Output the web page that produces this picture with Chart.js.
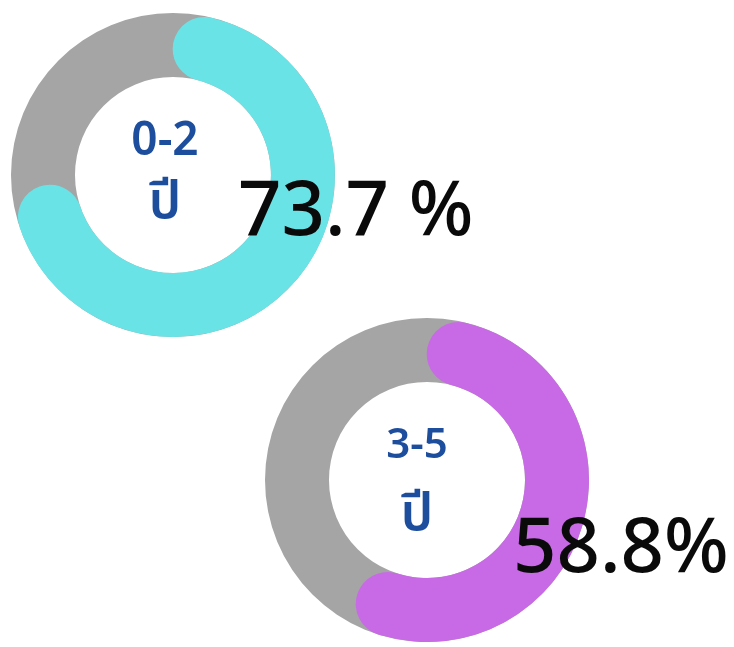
<!DOCTYPE html>
<html>
<head>
<meta charset="utf-8">
<script src="https://cdn.jsdelivr.net/npm/chart.js@4.4.1/dist/chart.umd.min.js"></script>
<style>
  html, body { margin: 0; padding: 0; background: #fff; }
  #wrap { position: relative; width: 734px; height: 647px; }
  #wrap canvas { position: absolute; left: 0; top: 0; }
</style>
</head>
<body>
<div id="wrap">
  <canvas id="ring1" width="734" height="647"></canvas>
  <canvas id="ring2" width="734" height="647"></canvas>
</div>
<script>
// Age groups and share of each group (percent)
const groups = ['0-2', '3-5'];
const unitLabel = 'ปี';
const shares = [73.7, 58.8];
const shareLabels = ['73.7 %', '58.8%'];
const ringColors = ['#6ae3e6', '#c86ae5'];
const trackColor = '#a5a5a5';

// Grey track under the coloured arc so the rounded ends sit on it
const trackPlugin = {
    id: 'track',
    beforeDatasetsDraw(chart) {
        const arc = chart.getDatasetMeta(0).data[0];
        if (!arc) return;
        const { x, y, innerRadius, outerRadius } = arc.getProps(['x', 'y', 'innerRadius', 'outerRadius'], true);
        const ctx = chart.ctx;
        ctx.save();
        ctx.beginPath();
        ctx.arc(x, y, outerRadius, 0, Math.PI * 2);
        ctx.arc(x, y, innerRadius, Math.PI * 2, 0, true);
        ctx.closePath();
        ctx.fillStyle = trackColor;
        ctx.fill();
        ctx.restore();
    }
};

// Group name in the hole, percentage beside the ring
const labelPlugin = {
    id: 'labels',
    afterDraw(chart, args, opts) {
        const arc = chart.getDatasetMeta(0).data[0];
        if (!arc) return;
        const { x, y } = arc.getProps(['x', 'y'], true);
        const ctx = chart.ctx;
        ctx.save();
        ctx.textAlign = 'center';
        ctx.textBaseline = 'alphabetic';
        ctx.fillStyle = '#1d4e9e';
        ctx.font = '600 ' + opts.groupSize + 'px "Noto Sans", "Noto Sans Thai", sans-serif';
        ctx.fillText(opts.group, x + opts.textX, y + opts.groupY);
        ctx.font = '600 52px "Noto Sans", "Noto Sans Thai", sans-serif';
        ctx.fillText(unitLabel, x + opts.textX, y + opts.unitY);

        ctx.textAlign = 'left';
        ctx.fillStyle = '#0a0a0a';
        ctx.font = '500 76px "Noto Sans", sans-serif';
        ctx.fillText(opts.value, x + opts.valueX, y + opts.valueY);
        ctx.restore();
    }
};

function makeRing(id, i, padding, labelPos) {
    return new Chart(document.getElementById(id), {
        type: 'doughnut',
        data: {
            labels: [groups[i], ''],
            datasets: [{
                data: [shares[i], 100 - shares[i]],
                backgroundColor: [ringColors[i], 'rgba(0,0,0,0)'],
                borderWidth: 0,
                borderRadius: [100, 0]
            }]
        },
        options: {
            responsive: false,
            animation: false,
            cutout: '60.5%',
            events: [],
            layout: { padding: padding },
            plugins: {
                legend: { display: false },
                tooltip: { enabled: false },
                labels: Object.assign({ group: groups[i], value: shareLabels[i] }, labelPos)
            }
        },
        plugins: [trackPlugin, labelPlugin]
    });
}

makeRing('ring1', 0,
    { left: 11, top: 13, right: 399, bottom: 310 },
    { groupSize: 46, textX: -8, groupY: -20, unitY: 43, valueX: 65, valueY: 60 });

makeRing('ring2', 1,
    { left: 265, top: 318, right: 145, bottom: 5 },
    { groupSize: 42, textX: -10, groupY: -22, unitY: 50, valueX: 86, valueY: 92 });
</script>
</body>
</html>
